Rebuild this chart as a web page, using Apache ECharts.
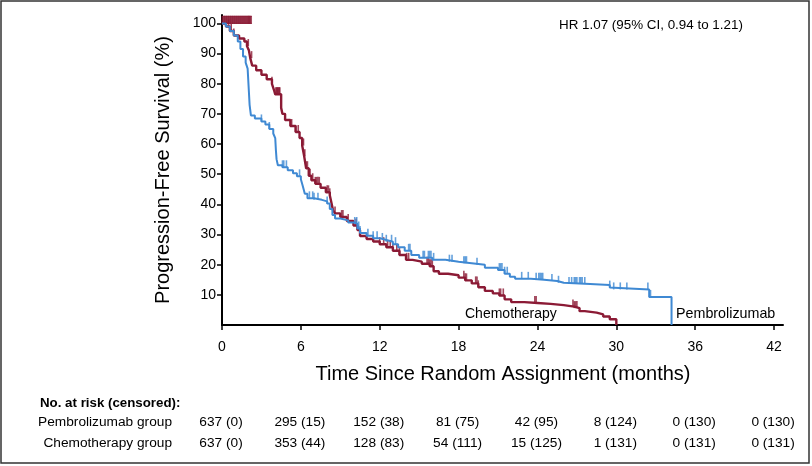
<!DOCTYPE html>
<html><head><meta charset="utf-8">
<script src="https://cdn.jsdelivr.net/npm/echarts@6/dist/echarts.min.js"></script>
<style>html,body{margin:0;padding:0;background:#fff}#c{width:812px;height:466px}</style>
</head><body><div id="c"></div>
<script>
const xTicks = [0, 6, 12, 18, 24, 30, 36, 42];
const yTicks = [10, 20, 30, 40, 50, 60, 70, 80, 90, 100];

const pembroCurve = [
 [0,100],[0.3,99],[0.6,97.5],[0.9,96],[1.2,94],[1.4,91.5],[1.6,89],[1.8,87],[1.95,85],[2.0,81],[2.05,77],[2.1,73],[2.2,69.5],
 [2.5,68.5],[3.0,67.5],[3.3,66.5],[3.6,65],[3.9,63.5],[4.05,62],[4.1,58],[4.15,55],[4.25,53],[4.6,52.3],[5.0,51.3],[5.4,50.3],
 [5.7,49.3],[6.0,48.3],[6.15,46],[6.3,43.5],[6.5,42],[7.0,41.5],[7.6,41],[8.0,40.3],[8.2,38.5],[8.4,36.5],[8.6,35.3],[9.0,34.7],
 [9.6,34],[10.1,33.5],[10.3,32],[10.5,30.5],[11,29.6],[11.5,28.8],[12,28.2],[12.5,27.6],[13.0,26.8],[13.4,25.8],[13.9,24.6],
 [14.4,23.2],[15,22.3],[16,21.6],[17,21],[18,20.5],[19,20],[20,19],[21,18.2],[21.5,17],[21.9,16],[22.3,15.3],[23.5,15],
 [24.5,14.6],[25.5,14],[26,13.6],[28,13.3],[29.5,12.4],[29.6,11.8],[32.5,9.3],[34.2,0]
];
const chemoCurve = [
 [0,100],[0.3,99],[0.6,97.5],[0.9,96],[1.3,95],[1.7,94],[1.9,92.5],[2.05,91],[2.15,88.5],[2.3,86],[2.6,84.5],[3.0,83],[3.4,81.5],
 [3.8,80],[3.95,78],[4.05,76.5],[4.5,72],[4.6,70],[4.8,68],[5.2,66],[5.6,64],[5.9,62],[6.1,59.5],[6.25,56],[6.4,52],[6.6,49.5],
 [6.8,48],[7.1,46.8],[7.5,45.5],[7.9,44],[8.2,43],[8.3,41],[8.45,38],[8.6,37],[9.0,35.8],[9.5,34.5],[10.0,33],[10.3,31.5],
 [10.5,29.5],[11,28.5],[11.5,27.7],[12,26.8],[12.5,25.8],[13.0,24.6],[13.5,23.2],[14.0,21.6],[14.5,21],[15.2,20.3],[15.8,19.5],
 [16.1,17.8],[16.5,17],[17.2,16.5],[18.0,15.7],[18.5,14.8],[19.0,13.8],[19.5,12.5],[20,11.3],[20.6,10.5],[21.1,9.8],[21.5,8.5],
 [22,7.6],[23,7.3],[24,7.0],[25,6.6],[26,6.1],[26.8,5.6],[27.2,4.6],[27.6,4.1],[28.5,3.5],[29.0,2.8],[29.5,1.9],[30,0]
];

const pembroCensorT = [3.0,3.6,4.6,4.7,4.9,5.9,6.65,6.9,7.0,7.3,8.0,10.1,10.25,10.4,10.5,11.1,11.5,11.8,12.2,12.5,12.9,13.2,
 14.2,14.3,15.3,15.4,15.7,15.8,15.9,16.1,17.3,17.5,18.4,18.5,18.6,19.4,21.1,21.2,21.3,21.5,21.7,22.8,23.3,23.9,24.1,24.2,24.3,
 24.4,25.1,25.6,26.4,26.6,26.8,26.9,27.0,27.2,27.3,27.4,27.6,29.5,29.8,30.3,30.8,32.4,32.6];
const chemoCensorT = [0.5,0.7,0.9,2.0,2.25,3.8,4.1,4.15,4.2,4.25,4.3,4.35,4.4,4.8,5.3,5.6,5.8,6.2,6.3,6.4,6.5,6.7,6.9,7.1,7.2,7.3,7.4,8.0,8.1,
 8.2,8.6,9.1,9.2,9.6,10.2,12.0,12.3,12.6,12.8,13.0,13.3,13.5,14.05,14.2,15.6,15.7,15.8,15.9,16.0,18.4,18.5,18.6,19.3,19.4,19.5,
 21.1,21.2,21.4,23.8,23.9,26.7,26.8,26.9,27.0];
const chemoCensorTopT = [0.1,0.25,0.4,0.55,0.7,0.85,1.0,1.15,1.3,1.45,1.6,1.75,1.9,2.05,2.15];

const groupNames = ['Pembrolizumab group', 'Chemotherapy group'];
const pembroAtRisk = ['637 (0)','295 (15)','152 (38)','81 (75)','42 (95)','8 (124)','0 (130)','0 (130)'];
const chemoAtRisk = ['637 (0)','353 (44)','128 (83)','54 (111)','15 (125)','1 (131)','0 (131)','0 (131)'];

const BLUE = '#3f89d3', RED = '#8b1a35';
const FONT = 'Liberation Sans, Arial, sans-serif';

function stepY(curve, t) { let v = curve[0][1]; for (const p of curve) { if (p[0] <= t) v = p[1]; else break; } return v; }
const pembroCensor = pembroCensorT.map(t => [t, stepY(pembroCurve, t)]);
const chemoCensor = chemoCensorT.map(t => [t, stepY(chemoCurve, t)]);
const chemoCensorTop = chemoCensorTopT.map(t => [t, 100]);

const chart = echarts.init(document.getElementById('c'));
const censorStyle = (color) => ({ type: 'scatter', symbol: 'rect', symbolSize: [1.6, 7], symbolOffset: [0, -3.5], itemStyle: { color }, silent: true });

chart.setOption({
  animation: false,
  grid: { left: 222, top: 15, width: 561, height: 310 },
  xAxis: {
    type: 'value', min: 0, max: 42.68,
    axisLine: { show: true, lineStyle: { color: '#000', width: 2 } },
    axisTick: { show: true, length: 5, lineStyle: { color: '#000', width: 1.5 }, customValues: xTicks },
    axisLabel: { customValues: xTicks, color: '#000', fontSize: 14, fontFamily: FONT, margin: 15 },
    splitLine: { show: false }
  },
  yAxis: {
    type: 'value', min: 0, max: 102.8,
    axisLine: { show: true, lineStyle: { color: '#000', width: 2 } },
    axisTick: { show: true, length: 5, lineStyle: { color: '#000', width: 1.5 }, customValues: yTicks },
    axisLabel: { customValues: yTicks, color: '#000', fontSize: 14, fontFamily: FONT, margin: 6 },
    splitLine: { show: false }
  },
  series: [
    { name: 'Chemotherapy', type: 'line', step: 'end', data: chemoCurve, showSymbol: false, lineStyle: { color: RED, width: 2.4 }, itemStyle: { color: RED }, z: 2 },
    Object.assign(censorStyle(RED), { data: chemoCensor, z: 2 }),
    Object.assign(censorStyle(RED), { data: chemoCensorTop, symbolSize: [3, 7], z: 2, itemStyle: { color: RED, borderColor: RED, borderWidth: 0.8 } }),
    { name: 'Pembrolizumab', type: 'line', step: 'end', data: pembroCurve, showSymbol: false, lineStyle: { color: BLUE, width: 2 }, itemStyle: { color: BLUE }, z: 3 },
    Object.assign(censorStyle(BLUE), { data: pembroCensor, z: 3 })
  ]
});

const g = [];
g.push({ type: 'rect', shape: { x: 1, y: 1, width: 808, height: 462 }, style: { fill: 'none', stroke: '#333', lineWidth: 1.5 }, silent: true });
g.push({ type: 'text', x: 163, y: 170, rotation: Math.PI / 2, style: { text: 'Progression-Free Survival (%)', font: '20px ' + FONT, fill: '#000', align: 'center', verticalAlign: 'middle' } });
g.push({ type: 'text', x: 503, y: 374, style: { text: 'Time Since Random Assignment (months)', font: '20px ' + FONT, fill: '#000', align: 'center', verticalAlign: 'middle' } });
g.push({ type: 'text', x: 559, y: 25, style: { text: 'HR 1.07 (95% CI, 0.94 to 1.21)', font: '13.4px ' + FONT, fill: '#000', align: 'left', verticalAlign: 'middle' } });
g.push({ type: 'text', x: 465, y: 314, style: { text: 'Chemotherapy', font: '14px ' + FONT, fill: '#000', align: 'left', verticalAlign: 'middle' } });
g.push({ type: 'text', x: 676, y: 314, style: { text: 'Pembrolizumab', font: '14.3px ' + FONT, fill: '#000', align: 'left', verticalAlign: 'middle' } });
g.push({ type: 'text', x: 40, y: 403, style: { text: 'No. at risk (censored):', font: 'bold 13.3px ' + FONT, fill: '#000', align: 'left', verticalAlign: 'middle' } });
const rowY = [422, 443];
[pembroAtRisk, chemoAtRisk].forEach((row, r) => {
  g.push({ type: 'text', x: 172, y: rowY[r], style: { text: groupNames[r], font: '13.7px ' + FONT, fill: '#000', align: 'right', verticalAlign: 'middle' } });
  row.forEach((txt, i) => {
    const px = chart.convertToPixel({ xAxisIndex: 0 }, xTicks[i]);
    g.push({ type: 'text', x: px - 1, y: rowY[r], style: { text: txt, font: '13.7px ' + FONT, fill: '#000', align: 'center', verticalAlign: 'middle' } });
  });
});
chart.setOption({ graphic: g });
</script></body></html>
